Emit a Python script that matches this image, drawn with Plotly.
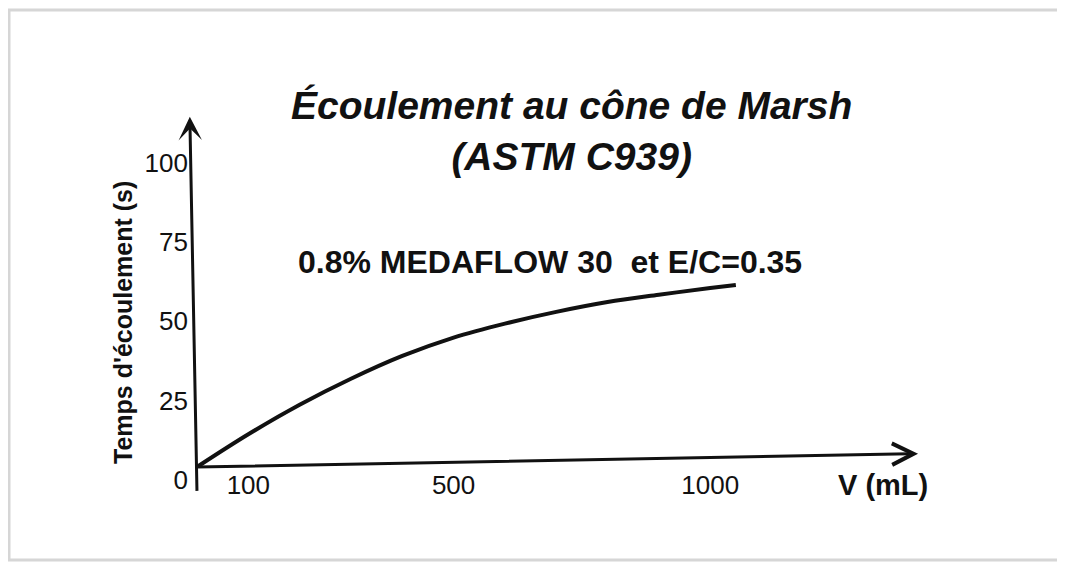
import plotly.graph_objects as go

# Data
volume_ml = [0, 100, 200, 300, 400, 500, 600, 700, 800, 900, 1000, 1050]
temps_s = [0, 10.3, 19.6, 27.8, 35.0, 40.8, 45.2, 48.9, 52, 54.3, 56.4, 57.4]

x_tick_vals = [100, 500, 1000]
x_tick_text = ["100", "500", "1000"]
y_tick_vals = [0, 25, 50, 75, 100]
y_tick_text = ["0", "25", "50", "75", "100"]

title_text = "<i><b>Écoulement au cône de Marsh<br>(ASTM C939)</b></i>"
series_label = "0.8% MEDAFLOW 30\u00a0 et E/C=0.35"
x_title = "V (mL)"
y_title = "Temps d'écoulement (s)"

INK = "#111111"
FONT = "Liberation Sans, Arial, sans-serif"

# page body has an 8px default margin: compensate
OFF = 8
FIG_W, FIG_H = 1065 - OFF, 565 - OFF
L, T, W, H = 197 - OFF, 99 - OFF, 739, 368

fig = go.Figure()
fig.add_trace(go.Scatter(
    x=volume_ml, y=temps_s, mode="lines",
    line=dict(color=INK, width=4, shape="spline", smoothing=1.0),
    cliponaxis=False, showlegend=False, hoverinfo="skip",
))


def px(xp):
    return (xp - OFF - L) / W


def py(yp):
    return (T + H - (yp - OFF)) / H


annotations = [
    # y axis arrow
    dict(x=-14, y=110.4, ax=0, ay=-8, xref="x", yref="y", axref="x", ayref="y",
         text="", showarrow=True, arrowhead=3, arrowsize=1.3, arrowwidth=3,
         arrowcolor=INK, standoff=0, startstandoff=0),
    # x axis arrow
    dict(x=1405, y=4.2, ax=-4, ay=0, xref="x", yref="y", axref="x", ayref="y",
         text="", showarrow=True, arrowhead=5, arrowsize=1.4, arrowwidth=3,
         arrowcolor=INK, standoff=0, startstandoff=0),
    dict(x=px(571), y=py(131), xref="paper", yref="paper", text=title_text,
         showarrow=False, xanchor="center", yanchor="middle",
         font=dict(family=FONT, size=39, color=INK)),
    dict(x=px(550), y=py(262), xref="paper", yref="paper", text="<b>" + series_label + "</b>",
         showarrow=False, xanchor="center", yanchor="middle",
         font=dict(family=FONT, size=32, color=INK)),
    dict(x=px(883), y=py(485), xref="paper", yref="paper", text="<b>" + x_title + "</b>",
         showarrow=False, xanchor="center", yanchor="middle",
         font=dict(family=FONT, size=29, color=INK)),
    dict(x=px(123), y=py(323), xref="paper", yref="paper", text="<b>" + y_title + "</b>",
         showarrow=False, xanchor="center", yanchor="middle", textangle=-90,
         font=dict(family=FONT, size=25, color=INK)),
]

shapes = [
    dict(type="rect", xref="paper", yref="paper",
         x0=px(9), x1=px(1062), y0=py(560), y1=py(10),
         line=dict(color="#d6d6d6", width=3), fillcolor="rgba(0,0,0,0)", layer="below"),
]

fig.update_layout(
    width=FIG_W, height=FIG_H,
    margin=dict(l=L, r=FIG_W - L - W, t=T, b=FIG_H - T - H),
    paper_bgcolor="white", plot_bgcolor="white",
    annotations=annotations, shapes=shapes,
    xaxis=dict(range=[0, 1440], showgrid=False, zeroline=False, showline=False,
               tickvals=x_tick_vals, ticktext=x_tick_text, ticks="",
               tickfont=dict(family=FONT, size=26, color=INK)),
    yaxis=dict(range=[0, 116], showgrid=False, zeroline=False, showline=False,
               tickvals=y_tick_vals, ticktext=y_tick_text, ticks="",
               ticklabelshift=13, ticklabelstandoff=8,
               tickfont=dict(family=FONT, size=26, color=INK)),
)

fig.write_html("out.html")
